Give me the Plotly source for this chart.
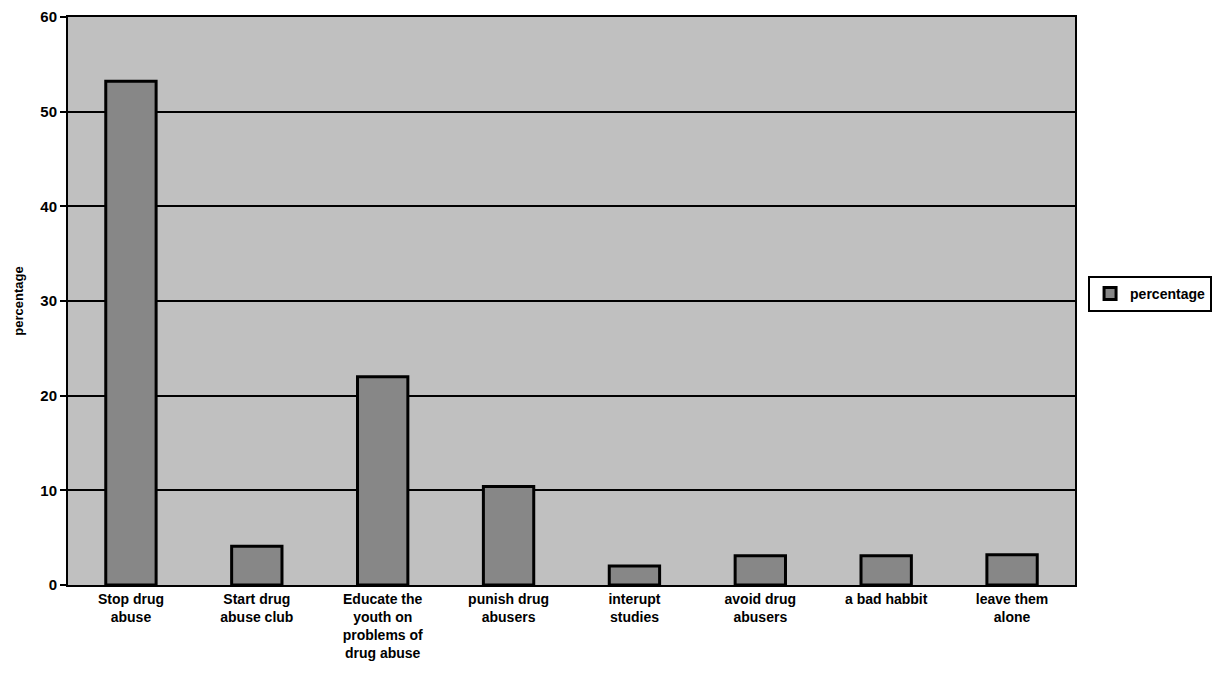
import plotly.graph_objects as go

# Survey responses: what should be done about drug abuse
categories = [
    "Stop drug<br>abuse",
    "Start drug<br>abuse club",
    "Educate the<br>youth on<br>problems of<br>drug abuse",
    "punish drug<br>abusers",
    "interupt<br>studies",
    "avoid drug<br>abusers",
    "a bad habbit",
    "leave them<br>alone",
]
percentage = [53.2, 4.1, 22.0, 10.4, 2.0, 3.1, 3.1, 3.2]
y_ticks = [0, 10, 20, 30, 40, 50, 60]

FONT = "Liberation Sans, Arial, sans-serif"

fig = go.Figure()
fig.add_trace(go.Bar(
    x=categories,
    y=percentage,
    name="percentage",
    marker=dict(color="#878787", line=dict(color="#000000", width=3)),
))

fig.update_layout(
    width=1213,
    height=679,
    margin=dict(l=68, r=138, t=17, b=94, autoexpand=False),
    paper_bgcolor="#ffffff",
    plot_bgcolor="#c0c0c0",
    bargap=0.6,
    font=dict(family=FONT, size=14, color="#000000", weight="bold"),
    showlegend=True,
    legend=dict(
        xref="container", yref="container",
        x=0.897, y=0.567, xanchor="left", yanchor="middle",
        bgcolor="#ffffff", bordercolor="#000000", borderwidth=2,
        font=dict(family=FONT, size=14, color="#000000", weight="bold"),
        itemwidth=30,
    ),
    xaxis=dict(
        showgrid=False,
        showline=True, linecolor="#000000", linewidth=2,
        mirror=True,
        ticks="", tickfont=dict(family=FONT, size=14, weight="bold"),
        tickangle=0,
    ),
    yaxis=dict(
        range=[0, 60],
        tickvals=y_ticks,
        showgrid=True, gridcolor="#000000", gridwidth=2,
        showline=True, linecolor="#000000", linewidth=2,
        mirror=True,
        ticks="outside", ticklen=6, tickwidth=2, tickcolor="#000000",
        tickfont=dict(family=FONT, size=15, weight="bold"),
        zeroline=False,
        title=dict(text="percentage", font=dict(family=FONT, size=13, weight="bold"), standoff=14),
    ),
)

fig.write_html("out.html")
